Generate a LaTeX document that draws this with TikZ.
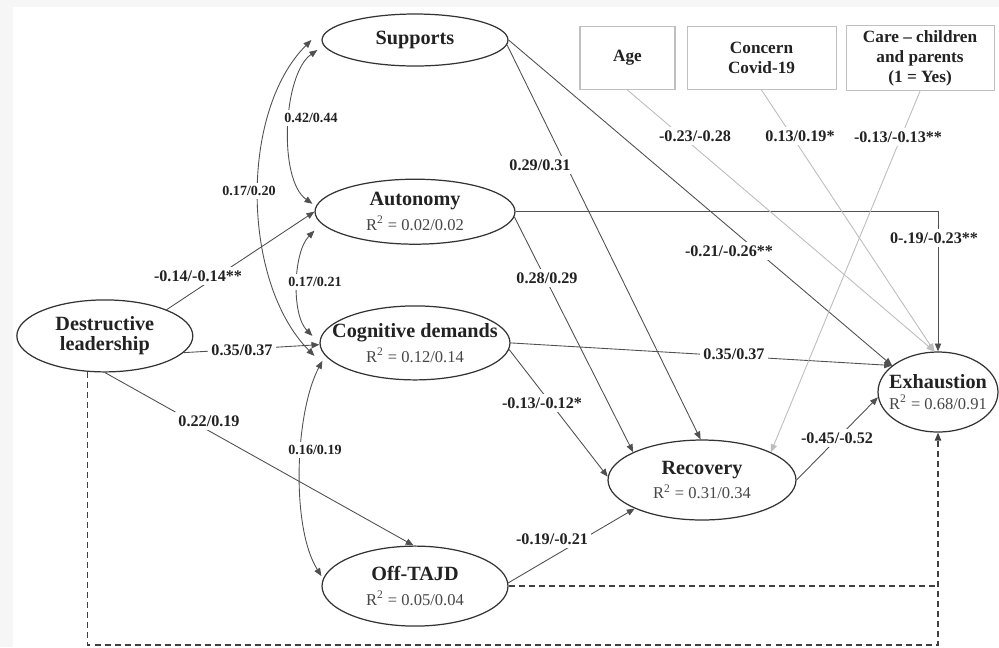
\documentclass[tikz,border=0pt]{standalone}
\usepackage{fontspec}
\setmainfont{Liberation Serif}
\usetikzlibrary{arrows.meta, positioning, shapes.geometric}
\definecolor{PathColor}{HTML}{505050}
\definecolor{CtrlColor}{HTML}{BDBDBD}
\definecolor{TextColor}{HTML}{222222}
\newcommand{\Rsq}[1]{{\fontsize{9.4}{14}\selectfont\mdseries\color{black!72}R\textsuperscript{2} = #1}}

\begin{document}
\begin{tikzpicture} [
    x=0.02cm, y=-0.02cm,
    >={Triangle[length=4.5pt, width=3.6pt]},
    lat/.style = {draw=black!80, line width=0.7pt, ellipse, inner sep=-1cm, align=center, text=TextColor, font=\fontsize{11.5}{14}\selectfont\bfseries},
    obs/.style = {draw=gray!50, line width=0.6pt, rectangle, inner xsep=2pt, inner ysep=1pt, align=center, text=TextColor, font=\fontsize{9.8}{11.4}\selectfont\bfseries},
    est/.style = {fill=white, inner sep=2pt, text=TextColor, font=\fontsize{9.2}{10}\selectfont\bfseries},
    ests/.style = {est, font=\fontsize{8}{9}\selectfont\bfseries},
    reg/.style = {draw=PathColor, line width=0.5pt, ->},
    ctrl/.style = {reg, draw=CtrlColor},
    corr/.style = {draw=PathColor, line width=0.5pt, <->},
    dsh/.style = {draw=black!75, line width=0.7pt, dash pattern=on 3.4pt off 2.3pt}
    ]

  % background
  \fill[gray!7] (0,0) rectangle (999,647);
  \fill[white] (13,7) rectangle (999,647);

  %%% LATENT VARIABLES %%%
  \node[lat, minimum width=3.72cm, minimum height=1.04cm] (sup) at (415,40) {Supports};
  \node[lat, minimum width=4cm, minimum height=1.3cm] (aut) [below=2.24cm of sup] {Autonomy\\ \Rsq{0.02/0.02}};
  \node[lat, minimum width=3.8cm, minimum height=1.48cm] (cog) [below=1.21cm of aut] {Cognitive demands\\ \Rsq{0.12/0.14}};
  \node[lat, minimum width=3.72cm, minimum height=1.6cm] (off) [below=3.3cm of cog] {Off-TAJD\\ \Rsq{0.05/0.04}};
  \node[lat, minimum width=3.52cm, minimum height=1.44cm, font=\fontsize{11.5}{11.5}\selectfont\bfseries] (dl) [left=2.52cm of cog, yshift=0.14cm] {Destructive\\leadership};
  \node[lat, minimum width=3.76cm, minimum height=1.6cm] (rec) at (702,480) {Recovery\\ \Rsq{0.31/0.34}};
  \node[lat, minimum width=2.4cm, minimum height=1.6cm, font=\fontsize{11.5}{11.5}\selectfont\bfseries] (exh) at (938,392) {Exhaustion\\ \Rsq{0.68/0.91}};

  %%% CONTROLS %%%
  \node[obs, minimum width=1.9cm, minimum height=1.26cm] (age) at (627.5,58) {Age};
  \node[obs, minimum width=2.98cm, minimum height=1.26cm] (covid) [right=0.22cm of age] {Concern\\Covid-19};
  \node[obs, minimum width=2.96cm, minimum height=1.3cm] (care) [right=0.18cm of covid] {Care – children\\and parents\\(1 = Yes)};

  % Correlations
  \path[corr] ([xshift=-2.3pt,yshift=-5.7pt]sup.west) to[out=215, in=145, looseness=0.7] ([xshift=-1.1pt,yshift=4.5pt]aut.west);
  \path[corr] ([xshift=-5.7pt]sup.west) to[out=225, in=135, looseness=0.83] ([xshift=-2.8pt,yshift=-7.4pt]cog.west);
  \path[corr] ([yshift=-10.8pt]aut.west) to[out=225, in=135, looseness=0.73] ([xshift=-4pt,yshift=4pt]cog.west);
  \path[corr] ([xshift=1.7pt,yshift=-10.2pt]cog.west) to[out=242, in=122, looseness=0.69] ([yshift=5.7pt]off.west);

  % Edges
  \path[reg] (dl.23) -- (aut.west);
  \path[reg] (dl.-12) -- ([yshift=-1pt]cog.west);
  \path[reg] (dl.south) -- (off.92);

  \path[reg] (sup.-3) -- (rec.92);
  \path[reg] (sup.east) -- (exh.150);
  \path[reg] (aut.east) -| (exh.north);
  \path[reg] (aut.-3) -- (rec.158);
  \path[reg] (cog.east) -- (exh.150);
  \path[reg] (cog.-4) -- (rec.178);
  \path[reg] (off.2) -- (rec.-157);
  \path[reg] (rec.east) -- (exh.185);

  \path[ctrl] (age.south) -- (exh.95);
  \path[ctrl] (covid.south) -- (exh.95);
  \path[ctrl] (care.south) -- (rec.22);

  % Dashed (direct) paths
  \coordinate (dbot) at (938,645);
  \path[dsh, ->] (dl.-116) |- (dbot) -- (exh.south);
  \path[dsh] (off.east) -- (off.east -| dbot);

  % Estimates
  \node[ests] (e-sa) at (311,118) {0.42/0.44};
  \node[ests] (e-sc) at (249,191) {0.17/0.20};
  \node[ests] (e-ac) at (315,282) {0.17/0.21};
  \node[ests] (e-co) at (315,450) {0.16/0.19};

  \node[est] (e-da) at (198,276) {-0.14/-0.14**};
  \node[est] (e-dc) at (242,350) {0.35/0.37};
  \node[est] (e-do) at (209,421) {0.22/0.19};
  \node[est] (e-sr) at (540,165) {0.29/0.31};
  \node[est] (e-se) at (729,251) {-0.21/-0.26**};
  \node[est] (e-ar) at (547,278) {0.28/0.29};
  \node[est] (e-ae) at (934,238) {0-.19/-0.23**};
  \node[est] (e-ce) at (734,354) {0.35/0.37};
  \node[est] (e-cr) at (542,403) {-0.13/-0.12*};
  \node[est] (e-or) at (552,539) {-0.19/-0.21};
  \node[est] (e-re) at (837,438) {-0.45/-0.52};
  \node[est] (e-age) at (695,136) {-0.23/-0.28};
  \node[est] (e-cov) at (800,136) {0.13/0.19*};
  \node[est] (e-care) at (898,137) {-0.13/-0.13**};

\end{tikzpicture}
\end{document}
